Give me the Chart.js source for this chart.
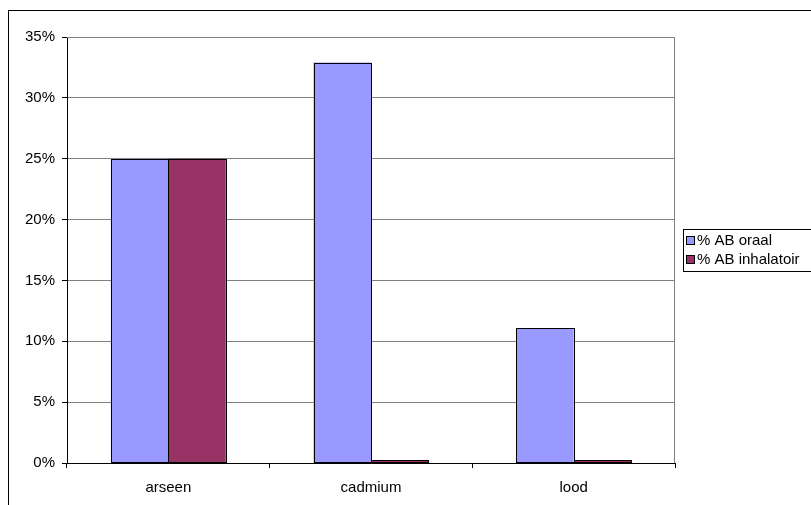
<!DOCTYPE html>
<html>
<head>
<meta charset="utf-8">
<script src="https://cdn.jsdelivr.net/npm/chart.js@4"></script>
<style>
  html, body { margin: 0; padding: 0; background: #fff; }
  #wrap { position: relative; width: 811px; height: 505px; }
</style>
</head>
<body>
<div id="wrap"><canvas id="c" width="811" height="505"></canvas></div>
<script>
// Metals and their absorption percentages
const categories = ['arseen', 'cadmium', 'lood'];
const oraal = [25, 32.9, 11.1];
const inhalatoir = [25, 0.25, 0.25];
const seriesNames = ['% AB oraal', '% AB inhalatoir'];
const yTicks = [0, 5, 10, 15, 20, 25, 30, 35];

const FONT = 'Liberation Sans, Arial, sans-serif';

// Outer frame, plot-area border, crisp bar outlines and boxed legend
const framePlugin = {
  id: 'frame',
  beforeDraw(chart) {
    const ctx = chart.ctx;
    ctx.save();
    ctx.fillStyle = '#fff';
    ctx.fillRect(0, 0, chart.width, chart.height);
    ctx.restore();
  },
  beforeDatasetsDraw(chart) {
    const ctx = chart.ctx;
    const a = chart.chartArea;
    ctx.save();
    ctx.strokeStyle = '#808080';
    ctx.lineWidth = 1;
    ctx.beginPath();
    ctx.moveTo(a.left, a.top + 0.5);
    ctx.lineTo(Math.round(a.right) - 0.5, a.top + 0.5);
    ctx.lineTo(Math.round(a.right) - 0.5, a.bottom);
    ctx.stroke();
    ctx.restore();
  },
  afterDatasetsDraw(chart) {
    const ctx = chart.ctx;
    ctx.save();
    ctx.strokeStyle = '#000';
    ctx.lineWidth = 1;
    chart.data.datasets.forEach((ds, i) => {
      chart.getDatasetMeta(i).data.forEach(el => {
        const p = el.getProps(['x', 'y', 'base', 'width'], true);
        const l = Math.round(p.x - p.width / 2) + 0.5;
        const r = Math.round(p.x + p.width / 2) + 0.5;
        const t = Math.round(p.y) + 0.5;
        const b = Math.round(p.base) - 0.5;
        ctx.strokeRect(l, t, r - l, Math.max(b - t, 0));
      });
    });
    ctx.restore();
  },
  afterDraw(chart) {
    const ctx = chart.ctx;
    ctx.save();
    ctx.strokeStyle = '#000';
    ctx.lineWidth = 1;
    ctx.strokeRect(8.5, 10.5, 900, 600);

    const lx = 683.5, ly = 229.5, lw = 140, lh = 42;
    ctx.strokeRect(lx, ly, lw, lh);
    ctx.font = '15px ' + FONT;
    ctx.textBaseline = 'middle';
    chart.data.datasets.forEach((ds, i) => {
      const cy = 240 + i * 19;
      ctx.fillStyle = ds.backgroundColor;
      ctx.fillRect(686, cy - 4, 9, 9);
      ctx.strokeStyle = '#000';
      ctx.strokeRect(686.5, cy - 3.5, 8, 8);
      ctx.fillStyle = '#000';
      ctx.fillText(ds.label, 697, cy + 1);
    });
    ctx.restore();
  }
};

new Chart(document.getElementById('c'), {
  type: 'bar',
  data: {
    labels: categories,
    datasets: [
      { label: seriesNames[0], data: oraal, backgroundColor: '#9999FF', borderWidth: 0 },
      { label: seriesNames[1], data: inhalatoir, backgroundColor: '#993366', borderWidth: 0 }
    ]
  },
  options: {
    responsive: false,
    animation: false,
    devicePixelRatio: 1,
    layout: { padding: { left: 0, top: 37, right: 136, bottom: 0 } },
    datasets: { bar: { categoryPercentage: 0.567, barPercentage: 1.0 } },
    plugins: {
      legend: { display: false },
      tooltip: { enabled: false }
    },
    scales: {
      x: {
        afterFit(scale) { scale.height = 42; },
        grid: {
          offset: true,
          drawOnChartArea: false,
          drawTicks: true,
          tickLength: 5,
          color: '#000'
        },
        border: { display: true, color: '#000', width: 1 },
        ticks: {
          color: '#000',
          font: { family: FONT, size: 15 },
          padding: 11,
          maxRotation: 0
        }
      },
      y: {
        min: 0,
        max: 35,
        afterFit(scale) { scale.width = 67; },
        afterBuildTicks(scale) { scale.ticks = yTicks.map(v => ({ value: v })); },
        grid: {
          color: '#808080',
          lineWidth: 1,
          drawTicks: true,
          tickLength: 5,
          tickColor: '#000'
        },
        border: { display: true, color: '#000', width: 1 },
        ticks: {
          color: '#000',
          font: { family: FONT, size: 15 },
          padding: 7,
          callback: v => v + '%'
        }
      }
    }
  },
  plugins: [framePlugin]
});
</script>
</body>
</html>
